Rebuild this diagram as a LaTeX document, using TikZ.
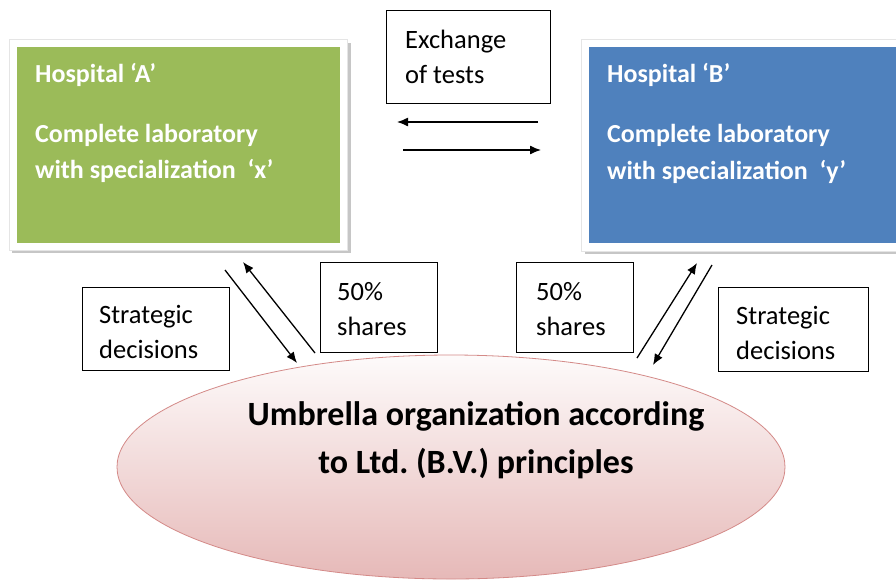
\documentclass[tikz,border=0pt]{standalone}
\usepackage{fontspec}
\setmainfont{Carlito}
\frenchspacing
\usetikzlibrary{arrows.meta,shapes.geometric}
\definecolor{hgreen}{HTML}{9BBB59}
\definecolor{hblue}{HTML}{4F81BD}
\definecolor{ellfill}{HTML}{E6B9B8}
\definecolor{ellline}{HTML}{D48A88}
\tikzset{
  hospital/.style={rectangle,inner sep=0pt,anchor=north west},
  hosptext/.style={anchor=base west,text=white,inner sep=0pt,
    font=\fontsize{26}{30}\selectfont\bfseries},
  labelbox/.style={draw=black,line width=1pt,rectangle,inner sep=0pt,anchor=north west},
  labeltext/.style={anchor=base west,inner sep=0pt,
    font=\fontsize{26.5}{30}\selectfont},
  umbtext/.style={anchor=base,inner sep=0pt,font=\fontsize{34}{40}\selectfont\bfseries},
  flow/.style={line width=1.3pt,-{Latex[length=11pt,width=9pt]}}
}
\begin{document}
\begin{tikzpicture}[x=1pt,y=-1pt]
\useasboundingbox (0,0) rectangle (896,579);
\fill[white] (0,0) rectangle (896,579);

% hospital A with frame and shadow
\fill[gray!45] (12,43) rectangle (351,253);
\fill[white,draw=gray!20] (9,39) rectangle (347,250);
\node[hospital,fill=hgreen,minimum width=323pt,minimum height=196pt] (hospA) at (17,47) {};
\node[hosptext] (a1) at (35,82) {Hospital `A'};
\node[hosptext] (a2) at (35,142) {Complete laboratory};
\node[hosptext] (a3) at (35,178) {with specialization\ \ `x'};

% hospital B with frame and shadow
\fill[gray!45] (585,43) rectangle (910,254);
\fill[white,draw=gray!20] (581,39) rectangle (910,251);
\node[hospital,fill=hblue,minimum width=320pt,minimum height=196pt] (hospB) at (589,47) {};
\node[hosptext] (b1) at (607,82) {Hospital `B'};
\node[hosptext] (b2) at (607,142) {Complete laboratory};
\node[hosptext] (b3) at (607,179) {with specialization\ \ `y'};

% exchange label and arrows
\node[labelbox,minimum width=164pt,minimum height=93pt] (exch) at (386,10) {};
\node[labeltext] (ex1) at (405,48) {Exchange};
\node[labeltext] (ex2) at (405,83) {of tests};
\coordinate (exL1) at (538,122);
\coordinate (exL2) at (397,122);
\coordinate (exR1) at (403,150);
\coordinate (exR2) at (541,150);
\draw[flow] (exL1) -- (exL2);
\draw[flow] (exR1) -- (exR2);

% umbrella organization
\node[ellipse,minimum width=668pt,minimum height=224pt,inner sep=0pt,
  draw=ellline,line width=0.8pt,top color=white!94!ellfill,bottom color=ellfill] (umb) at (451,467) {};
\node[umbtext] (u1) at (476,425) {Umbrella organization according};
\node[umbtext] (u2) at (476,473) {to Ltd. (B.V.) principles};

% left side labels
\node[labelbox,minimum width=147pt,minimum height=83pt] (stratA) at (82,287) {};
\node[labeltext] (sa1) at (99,323) {Strategic};
\node[labeltext] (sa2) at (99,358) {decisions};
\node[labelbox,minimum width=117pt,minimum height=90pt] (shareA) at (320,262) {};
\node[labeltext] (ha1) at (337,300) {50\%};
\node[labeltext] (ha2) at (337,335) {shares};

% right side labels
\node[labelbox,minimum width=117pt,minimum height=90pt] (shareB) at (516,262) {};
\node[labeltext] (hb1) at (536,300) {50\%};
\node[labeltext] (hb2) at (536,335) {shares};
\node[labelbox,minimum width=150pt,minimum height=84pt] (stratB) at (718,287) {};
\node[labeltext] (sb1) at (736,324) {Strategic};
\node[labeltext] (sb2) at (736,359) {decisions};

% arrows between the hospitals and the umbrella
\coordinate (aDown1) at (225,270);
\coordinate (aDown2) at (297,363);
\coordinate (aUp1) at (315,353);
\coordinate (aUp2) at (243,262);
\draw[flow] (aDown1) -- (aDown2);
\draw[flow] (aUp1) -- (aUp2);
\coordinate (bUp1) at (637,358);
\coordinate (bUp2) at (697,263);
\coordinate (bDown1) at (712,265);
\coordinate (bDown2) at (653,365);
\draw[flow] (bUp1) -- (bUp2);
\draw[flow] (bDown1) -- (bDown2);
\end{tikzpicture}
\end{document}
